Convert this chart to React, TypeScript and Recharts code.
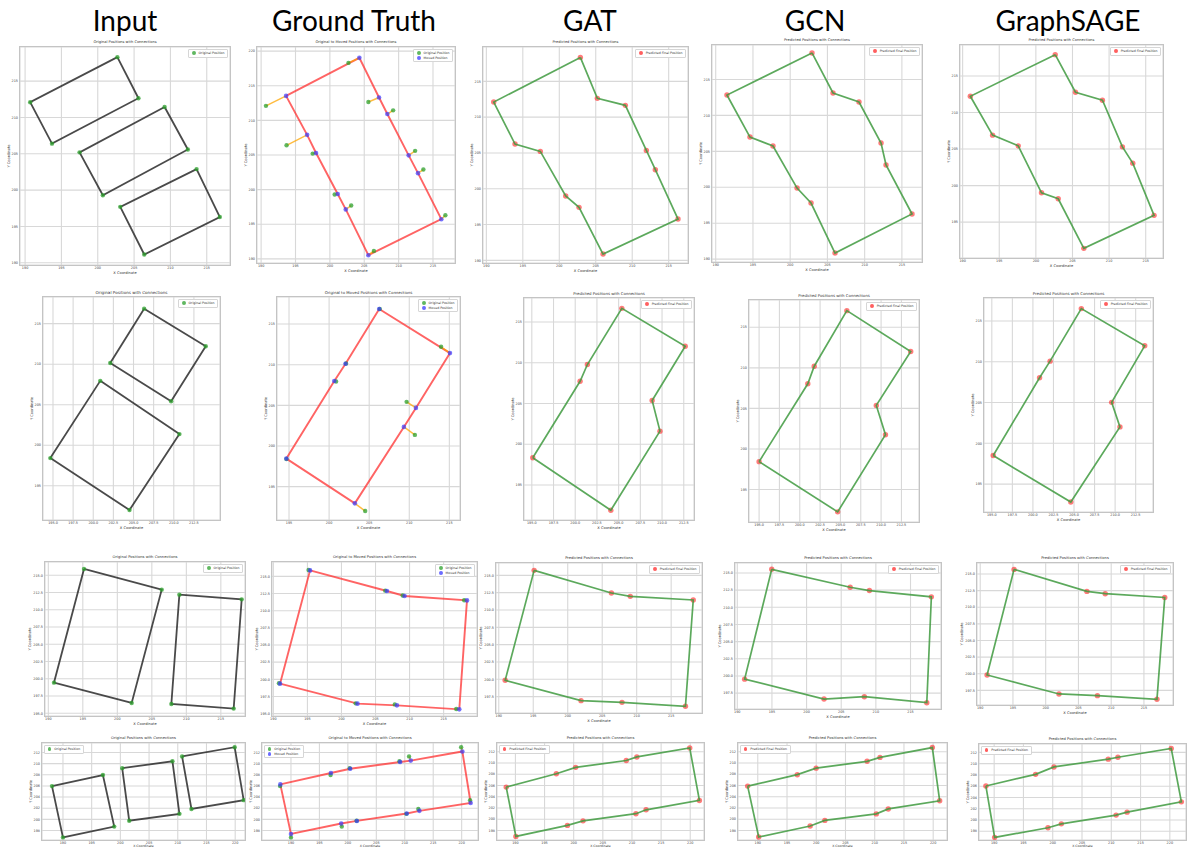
import React from 'react';
import { ScatterChart, Scatter, XAxis, YAxis, CartesianGrid, Legend } from 'recharts';

type XY = [number, number];
type Kind = 'input' | 'truth' | 'pred';

// ---------- row 1: three tilted rectangles ----------
const r1OrigA: XY[] = [[202.7, 218.3], [205.6, 212.65], [193.7, 206.4], [190.7, 212.1]];
const r1OrigB: XY[] = [[209.2, 211.45], [212.4, 205.6], [200.7, 199.3], [197.5, 205.2]];
const r1OrigC: XY[] = [[213.6, 202.9], [216.8, 196.3], [206.4, 191.15], [203.1, 197.7]];
// moved positions, same order as A + B + C
const r1Moved: XY[] = [
  [204.29, 219.03], [207.15, 213.3], [196.69, 207.91], [193.63, 213.54],
  [208.36, 210.92], [211.46, 204.95], [201.14, 199.37], [197.99, 205.29],
  [212.82, 202.38], [216.21, 195.73], [205.6, 190.53], [202.31, 197.14],
];
const r1Ring = [3, 0, 1, 4, 5, 8, 9, 10, 11, 6, 7, 2];
const r1Gat: XY[] = [
  [202.89, 218.35], [205.22, 212.63], [209.06, 211.65], [211.94, 205.36], [213.17, 202.66], [216.28, 195.77],
  [206.0, 190.88], [202.71, 197.4], [200.88, 198.99], [197.4, 205.22], [193.93, 206.25], [191.01, 212.11],
];
const r1Gcn: XY[] = [
  [202.93, 218.69], [205.75, 213.12], [209.24, 211.87], [212.2, 206.16], [212.87, 203.1], [216.36, 196.28],
  [206.02, 190.85], [202.8, 197.81], [200.92, 199.89], [197.69, 205.74], [194.6, 206.99], [191.51, 212.84],
];
const r1Sage: XY[] = [
  [202.64, 217.91], [205.41, 212.77], [209.09, 211.68], [211.82, 205.3], [213.23, 203.07], [216.14, 195.93],
  [206.55, 191.42], [203.05, 198.2], [200.77, 199.02], [197.59, 205.44], [194.09, 206.9], [191.05, 212.22],
];
const r1XTicks = [190, 195, 200, 205, 210, 215];
const r1YTicks = [190, 195, 200, 205, 210, 215, 220];

// ---------- row 2: two squares ----------
const r2OrigA: XY[] = [[206.32, 216.85], [213.97, 212.21], [209.67, 205.43], [202.11, 210.15]];
const r2OrigB: XY[] = [[200.87, 207.94], [210.7, 201.37], [204.5, 192.0], [194.67, 198.41]];
const r2Moved: XY[] = [
  [206.25, 216.85], [215.08, 211.43], [210.83, 204.69], [202.05, 210.12],
  [200.65, 208.0], [209.33, 202.35], [203.21, 192.95], [194.67, 198.45],
];
const r2Ring = [7, 4, 3, 0, 1, 2, 5, 6];
const r2Gat: XY[] = [
  [195.11, 198.35], [200.56, 207.73], [201.4, 209.78], [205.37, 216.67],
  [212.67, 212.02], [208.86, 205.37], [209.76, 201.61], [204.1, 191.9],
];
const r2Gcn: XY[] = [
  [195.0, 198.44], [200.99, 208.03], [201.78, 210.2], [205.79, 217.05],
  [213.64, 212.01], [209.41, 205.37], [210.54, 201.76], [204.66, 192.25],
];
const r2Sage: XY[] = [
  [195.17, 198.5], [200.81, 208.03], [202.09, 210.07], [205.89, 216.51],
  [213.6, 211.95], [209.58, 205.02], [210.59, 202.01], [204.61, 192.8],
];
const r2XTicks = [195, 197.5, 200, 202.5, 205, 207.5, 210, 212.5];
const r2XTicksTruth = [195, 200, 205, 210, 215];
const r2YTicks = [195, 200, 205, 210, 215];

// ---------- row 3: two upright quads ----------
const r3OrigA: XY[] = [[195.17, 215.92], [206.43, 212.92], [202.08, 196.5], [190.82, 199.44]];
const r3OrigB: XY[] = [[208.99, 212.2], [218.02, 211.52], [216.86, 195.68], [207.83, 196.35]];
const r3Moved: XY[] = [
  [195.39, 215.87], [206.67, 212.86], [202.35, 196.46], [190.98, 199.37],
  [209.26, 212.14], [218.43, 211.5], [217.3, 195.63], [208.14, 196.21],
];
const r3Ring = [3, 0, 1, 4, 5, 6, 7, 2];
const r3Gat: XY[] = [
  [195.13, 215.72], [206.33, 212.45], [209.07, 211.97], [218.2, 211.44],
  [217.07, 196.11], [207.87, 196.68], [201.93, 196.92], [190.93, 199.86],
];
const r3Gcn: XY[] = [
  [194.97, 215.53], [206.29, 212.92], [209.07, 212.44], [218.01, 211.52],
  [217.35, 196.11], [208.34, 196.98], [202.52, 196.64], [191.06, 199.54],
];
const r3Sage: XY[] = [
  [195.17, 215.7], [206.29, 212.39], [209.09, 212.04], [218.18, 211.48],
  [216.99, 196.16], [207.9, 196.71], [202.03, 196.96], [191.05, 199.82],
];
const r3XTicks = [190, 195, 200, 205, 210, 215];
const r3YTicks = [195, 197.5, 200, 202.5, 205, 207.5, 210, 212.5, 215];

// ---------- row 4: three small squares in a row ----------
const r4OrigA: XY[] = [[188.09, 205.97], [196.96, 207.96], [198.93, 198.7], [190.0, 196.77]];
const r4OrigB: XY[] = [[200.32, 209.19], [209.07, 210.42], [210.29, 200.99], [201.54, 199.76]];
const r4OrigC: XY[] = [[210.75, 211.3], [219.91, 212.94], [221.48, 203.45], [212.38, 201.87]];
const r4Moved: XY[] = [
  [188.13, 206.27], [197.02, 208.32], [198.83, 199.25], [190.0, 197.38],
  [200.41, 209.08], [209.18, 210.3], [210.35, 201.06], [201.58, 199.72],
  [211.05, 210.54], [220.12, 212.18], [221.58, 202.94], [212.57, 201.53],
];
const r4Ring = [0, 1, 4, 5, 8, 9, 10, 11, 6, 7, 2, 3];
const r4Gat: XY[] = [
  [188.42, 205.71], [197.02, 208.08], [200.34, 209.23], [209.02, 210.44], [210.84, 211.08], [219.91, 212.69],
  [221.57, 203.34], [212.42, 201.67], [210.68, 200.98], [201.6, 199.71], [198.92, 198.9], [190.08, 196.94],
];
const r4Gcn: XY[] = [
  [188.27, 205.9], [196.76, 207.93], [199.98, 209.09], [208.7, 210.31], [210.9, 211.01], [219.85, 212.76],
  [221.11, 203.28], [212.31, 201.83], [210.27, 200.95], [201.47, 199.79], [198.96, 198.8], [190.16, 196.83],
];
const r4Sage: XY[] = [
  [188.59, 206.03], [197.07, 208.1], [200.21, 209.42], [209.48, 210.8], [211.13, 211.14], [220.24, 212.69],
  [221.97, 203.22], [212.7, 201.39], [210.82, 200.87], [201.47, 199.32], [199.19, 198.63], [190.08, 196.91],
];
const r4XTicks = [190, 195, 200, 205, 210, 215, 220];
const r4YTicks = [198, 200, 202, 204, 206, 208, 210, 212];

const columnNames = ['Input', 'Ground Truth', 'GAT', 'GCN', 'GraphSAGE'];
const columnCenters = [125, 354, 590, 815, 1068];

const TITLES: Record<Kind, string> = {
  input: 'Original Positions with Connections',
  truth: 'Original to Moved Positions with Connections',
  pred: 'Predicted Positions with Connections',
};

const LEGEND_ORDER = ['Original Position', 'Moved Position', 'Predicted Final Position'];

interface PanelSpec {
  kind: Kind;
  box: [number, number, number, number]; // plot frame: left, top, right, bottom
  xDomain: [number, number];
  yDomain: [number, number];
  xTicks: number[];
  yTicks: number[];
  xDec?: number;
  yDec?: number;
  titleSize: number;
  legendLeft?: boolean;
  tightBottom?: boolean; // last row sits at the page edge
  rects?: XY[][];
  moved?: XY[];
  ring?: number[];
  path?: XY[];
}

const panels: PanelSpec[] = [
  // row 1
  { kind: 'input', box: [20, 47, 230, 265], xDomain: [189.3, 218.2], yDomain: [189.7, 219.7], xTicks: r1XTicks, yTicks: r1YTicks, titleSize: 3.6, rects: [r1OrigA, r1OrigB, r1OrigC] },
  { kind: 'truth', box: [257, 47, 455, 263], xDomain: [189.4, 218.2], yDomain: [189.4, 220.6], xTicks: r1XTicks, yTicks: r1YTicks, titleSize: 3.6, rects: [r1OrigA, r1OrigB, r1OrigC], moved: r1Moved, ring: r1Ring },
  { kind: 'pred', box: [483, 47, 688, 263], xDomain: [189.54, 217.65], yDomain: [189.63, 219.8], xTicks: r1XTicks, yTicks: r1YTicks, titleSize: 3.6, path: r1Gat },
  { kind: 'pred', box: [712, 45, 922, 262], xDomain: [189.5, 217.7], yDomain: [189.6, 219.8], xTicks: r1XTicks, yTicks: r1YTicks, titleSize: 3.6, path: r1Gcn },
  { kind: 'pred', box: [960, 45, 1163, 258], xDomain: [189.64, 217.36], yDomain: [190.1, 219.23], xTicks: r1XTicks, yTicks: r1YTicks, titleSize: 3.6, path: r1Sage },
  // row 2
  { kind: 'input', box: [43, 297, 220, 520], xDomain: [193.76, 215.74], yDomain: [190.77, 218.29], xTicks: r2XTicks, yTicks: r2YTicks, xDec: 1, titleSize: 4.1, rects: [r2OrigA, r2OrigB] },
  { kind: 'truth', box: [277, 297, 460, 520], xDomain: [193.5, 216.33], yDomain: [190.9, 218.33], xTicks: r2XTicksTruth, yTicks: r2YTicks, titleSize: 3.9, rects: [r2OrigA, r2OrigB], moved: r2Moved, ring: r2Ring },
  { kind: 'pred', box: [524, 298, 694, 520], xDomain: [194.1, 213.68], yDomain: [190.71, 217.94], xTicks: r2XTicks, yTicks: r2YTicks, xDec: 1, titleSize: 3.9, path: r2Gat },
  { kind: 'pred', box: [749, 300, 919, 522], xDomain: [193.76, 214.66], yDomain: [191.0, 218.36], xTicks: r2XTicks, yTicks: r2YTicks, xDec: 1, titleSize: 3.9, path: r2Gcn },
  { kind: 'pred', box: [984, 298, 1153, 512], xDomain: [194.05, 214.61], yDomain: [191.58, 217.81], xTicks: r2XTicks, yTicks: r2YTicks, xDec: 1, titleSize: 3.9, path: r2Sage },
  // row 3
  { kind: 'input', box: [45, 562, 245, 716], xDomain: [189.52, 218.5], yDomain: [194.61, 216.93], xTicks: r3XTicks, yTicks: r3YTicks, yDec: 1, titleSize: 3.7, rects: [r3OrigA, r3OrigB] },
  { kind: 'truth', box: [272, 562, 477, 716], xDomain: [189.8, 219.9], yDomain: [194.66, 217.09], xTicks: r3XTicks, yTicks: r3YTicks, yDec: 1, titleSize: 3.7, rects: [r3OrigA, r3OrigB], moved: r3Moved, ring: r3Ring },
  { kind: 'pred', box: [496, 563, 702, 713], xDomain: [189.6, 219.47], yDomain: [195.14, 216.78], xTicks: r3XTicks, yTicks: r3YTicks, yDec: 1, titleSize: 3.7, path: r3Gat },
  { kind: 'pred', box: [735, 563, 941, 709], xDomain: [189.67, 219.4], yDomain: [195.19, 216.45], xTicks: r3XTicks, yTicks: r3YTicks, yDec: 1, titleSize: 3.7, path: r3Gcn },
  { kind: 'pred', box: [977, 563, 1173, 705], xDomain: [189.51, 219.44], yDomain: [195.3, 216.66], xTicks: r3XTicks, yTicks: r3YTicks, yDec: 1, titleSize: 3.7, path: r3Sage },
  // row 4
  { kind: 'input', box: [42, 743, 245, 840], xDomain: [186.35, 221.71], yDomain: [196.3, 213.7], xTicks: r4XTicks, yTicks: r4YTicks, titleSize: 3.7, legendLeft: true, tightBottom: true, rects: [r4OrigA, r4OrigB, r4OrigC] },
  { kind: 'truth', box: [262, 743, 478, 840], xDomain: [184.91, 222.87], yDomain: [196.3, 213.7], xTicks: r4XTicks, yTicks: r4YTicks, titleSize: 3.7, legendLeft: true, tightBottom: true, rects: [r4OrigA, r4OrigB, r4OrigC], moved: r4Moved, ring: r4Ring },
  { kind: 'pred', box: [497, 743, 704, 840], xDomain: [186.84, 222.36], yDomain: [196.3, 213.56], xTicks: r4XTicks, yTicks: r4YTicks, titleSize: 3.7, legendLeft: true, tightBottom: true, path: r4Gat },
  { kind: 'pred', box: [738, 743, 947, 840], xDomain: [186.62, 222.36], yDomain: [196.3, 213.57], xTicks: r4XTicks, yTicks: r4YTicks, titleSize: 3.7, legendLeft: true, tightBottom: true, path: r4Gcn },
  { kind: 'pred', box: [979, 744, 1186, 840], xDomain: [187.41, 222.76], yDomain: [196.45, 213.49], xTicks: r4XTicks, yTicks: r4YTicks, titleSize: 3.7, legendLeft: true, tightBottom: true, path: r4Sage },
];

const YW = 22;
const XH = 12;
const FONT = '"DejaVu Sans", sans-serif';

const toPts = (a: XY[]) => a.map(([x, y]) => ({ x, y }));
const closed = (a: XY[]) => toPts([...a, a[0]]);

const NoShape = () => <g />;
const makeDot = (color: string, r: number, op: number) => (p: any) =>
  p.cx == null ? <g /> : <circle cx={p.cx} cy={p.cy} r={r} fill={color} fillOpacity={op} />;

const greenDot = makeDot('#2ca02c', 2.2, 0.75);
const blueDot = makeDot('#3b3bff', 2.3, 0.7);
const redDot = makeDot('#ff2a2a', 2.7, 0.62);

const LegendBox = (props: any) => {
  const items = (props.payload || [])
    .filter((p: any) => LEGEND_ORDER.includes(p.value))
    .sort((a: any, b: any) => LEGEND_ORDER.indexOf(a.value) - LEGEND_ORDER.indexOf(b.value));
  return (
    <div style={{ background: '#fff', border: '0.6px solid #d6d6d6', borderRadius: 1, padding: '1px 2.5px', fontFamily: FONT, fontSize: 3.2, color: '#333', lineHeight: '4.6px', whiteSpace: 'nowrap' }}>
      {items.map((p: any) => (
        <div key={p.value} style={{ display: 'flex', alignItems: 'center' }}>
          <span style={{ display: 'inline-block', width: 3.8, height: 3.8, borderRadius: '50%', background: p.color, opacity: 0.75, marginRight: 3 }} />
          {p.value}
        </div>
      ))}
    </div>
  );
};

function Panel({ spec }: { spec: PanelSpec }) {
  const [l, t, r, b] = spec.box;
  const w = r - l + YW;
  const h = b - t + XH;
  const within = (d: [number, number]) => (v: number) => v >= d[0] && v <= d[1];
  const xTicks = spec.xTicks.filter(within(spec.xDomain));
  const yTicks = spec.yTicks.filter(within(spec.yDomain));
  const fmt = (dec?: number) => (v: number) => (dec ? v.toFixed(dec) : String(v));
  const yLabelOffset = YW - (spec.yDec ? 15 : 11);
  const xLabelOffset = spec.tightBottom ? 4.6 : 3;
  const xLabelSize = spec.tightBottom ? 3.2 : 3.6;

  const series: React.ReactNode[] = [];
  if (spec.kind === 'input' && spec.rects) {
    spec.rects.forEach((rc, i) =>
      series.push(
        <Scatter key={`rect${i}`} data={closed(rc)} line={{ stroke: '#2a2a2a', strokeWidth: 1.8, strokeOpacity: 0.85 }} shape={NoShape} legendType="none" isAnimationActive={false} />
      )
    );
    series.push(<Scatter key="orig" name="Original Position" data={toPts(spec.rects.flat())} fill="#2ca02c" shape={greenDot} isAnimationActive={false} />);
  }
  if (spec.kind === 'truth' && spec.rects && spec.moved && spec.ring) {
    const orig = spec.rects.flat();
    const moved = spec.moved;
    series.push(
      <Scatter key="ring" data={closed(spec.ring.map((i) => moved[i]))} line={{ stroke: '#ff3030', strokeWidth: 1.9, strokeOpacity: 0.75 }} shape={NoShape} legendType="none" isAnimationActive={false} />
    );
    orig.forEach((o, i) =>
      series.push(
        <Scatter key={`shift${i}`} data={toPts([o, moved[i]])} line={{ stroke: '#ffa500', strokeWidth: 1.5, strokeOpacity: 0.75 }} shape={NoShape} legendType="none" isAnimationActive={false} />
      )
    );
    series.push(<Scatter key="orig" name="Original Position" data={toPts(orig)} fill="#2ca02c" shape={greenDot} isAnimationActive={false} />);
    series.push(<Scatter key="moved" name="Moved Position" data={toPts(moved)} fill="#3b3bff" shape={blueDot} isAnimationActive={false} />);
  }
  if (spec.kind === 'pred' && spec.path) {
    series.push(<Scatter key="pts" name="Predicted Final Position" data={toPts(spec.path)} fill="#ff2a2a" shape={redDot} isAnimationActive={false} />);
    series.push(
      <Scatter key="ring" data={closed(spec.path)} line={{ stroke: '#3f9a3f', strokeWidth: 1.7, strokeOpacity: 0.85 }} shape={NoShape} legendType="none" isAnimationActive={false} />
    );
  }

  const legendPos = spec.legendLeft ? { left: YW + 2, right: 'auto' } : { left: 'auto', right: 2 };

  return (
    <>
      <div style={{ position: 'absolute', left: l, top: t - 3.3 - spec.titleSize / 2 - 0.5, width: r - l, textAlign: 'center', fontFamily: FONT, fontSize: spec.titleSize, lineHeight: `${spec.titleSize}px`, color: '#333', whiteSpace: 'nowrap' }}>
        {TITLES[spec.kind]}
      </div>
      <div style={{ position: 'absolute', left: l - YW, top: t }}>
        <ScatterChart width={w} height={h} margin={{ top: 0, right: 0, bottom: 0, left: 0 }}>
          <CartesianGrid stroke="#d8d8d8" strokeWidth={1.1} />
          <XAxis
            type="number"
            dataKey="x"
            domain={spec.xDomain}
            ticks={xTicks}
            allowDataOverflow
            height={XH}
            tickFormatter={fmt(spec.xDec)}
            tick={{ fontSize: 3.4, fill: '#444', fontFamily: FONT }}
            tickLine={false}
            axisLine={false}
            tickSize={1}
            tickMargin={0.5}
            interval={0}
            label={{ value: 'X Coordinate', position: 'insideBottom', offset: xLabelOffset, fontSize: xLabelSize, fill: '#333', fontFamily: FONT }}
          />
          <YAxis
            type="number"
            dataKey="y"
            domain={spec.yDomain}
            ticks={yTicks}
            allowDataOverflow
            width={YW}
            tickFormatter={fmt(spec.yDec)}
            tick={{ fontSize: 3.4, fill: '#444', fontFamily: FONT }}
            tickLine={false}
            axisLine={false}
            tickSize={1}
            tickMargin={1}
            interval={0}
            label={{ value: 'Y Coordinate', angle: -90, position: 'insideLeft', offset: yLabelOffset, fontSize: 3.6, fill: '#333', fontFamily: FONT, style: { textAnchor: 'middle' } }}
          />
          {series}
          <Legend
            layout="horizontal"
            verticalAlign="middle"
            align="center"
            content={LegendBox}
            wrapperStyle={{ top: 2, width: 'auto', ...legendPos } as any}
          />
        </ScatterChart>
      </div>
      <div style={{ position: 'absolute', left: l - 1, top: t - 1, width: r - l + 2, height: b - t + 2, border: '1.5px solid #c4c4c4', boxSizing: 'border-box', pointerEvents: 'none' }} />
    </>
  );
}

export default function App() {
  return (
    <div style={{ position: 'absolute', left: 0, top: 0, width: 1189, height: 848, background: '#fff', overflow: 'hidden' }}>
      {columnNames.map((name, i) => (
        <div key={name} style={{ position: 'absolute', left: columnCenters[i] - 150, top: 6, width: 300, textAlign: 'center', fontFamily: 'Lato, "Open Sans", sans-serif', fontSize: 28, lineHeight: '28px', color: '#000' }}>
          {name}
        </div>
      ))}
      {panels.map((p, i) => (
        <Panel key={i} spec={p} />
      ))}
    </div>
  );
}
